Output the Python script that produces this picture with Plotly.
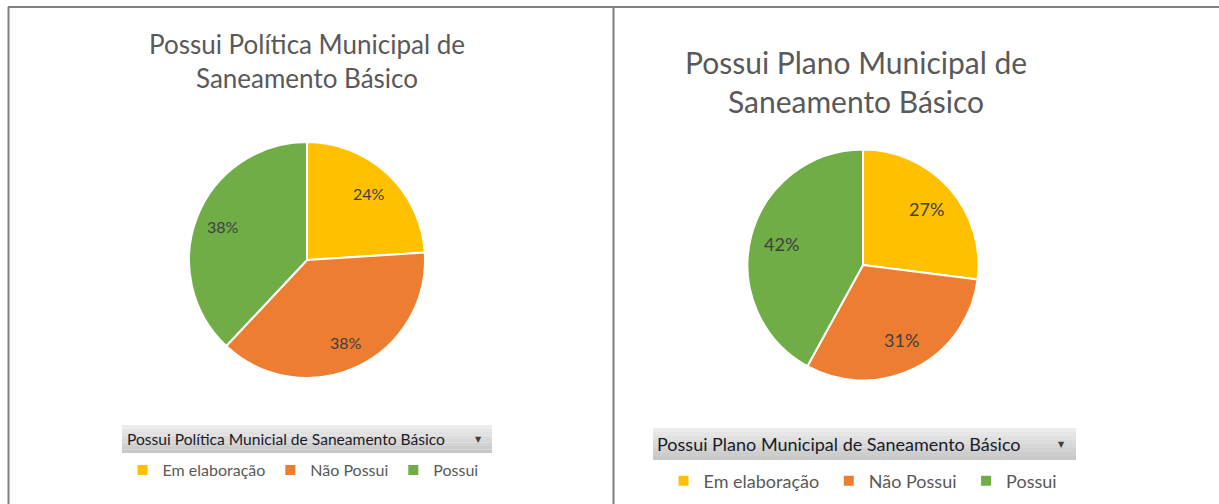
import math
import plotly.graph_objects as go

W, H = 1219, 504

categories = ["Em elaboração", "Não Possui", "Possui"]
politica_values = [24, 38, 38]
plano_values = [27, 31, 42]
colors = ["#FFC000", "#ED7D31", "#70AD47"]

title_left = "Possui Política Municipal de<br>Saneamento Básico"
title_right = "Possui Plano Municipal de<br>Saneamento Básico"
header_left = "Possui Política Municial de Saneamento Básico"
header_right = "Possui Plano Municipal de Saneamento Básico"

FONT = "Lato"

def px_x(x):
    return x / W

def px_y(y):
    return 1 - y / H

# pie geometry (pixels)
LEFT = dict(cx=307, cy=260, r=118, lab=0.77, fs=16)
RIGHT = dict(cx=863, cy=265, r=115.5, lab=0.73, fs=18)

fig = go.Figure()

def add_pie(values, labels, geo, legend):
    fig.add_trace(go.Pie(
        labels=labels, values=values, sort=False, direction="clockwise",
        rotation=0, marker=dict(colors=colors, line=dict(color="white", width=2)),
        textinfo="none",
        domain=dict(x=[px_x(geo["cx"] - geo["r"]), px_x(geo["cx"] + geo["r"])],
                    y=[px_y(geo["cy"] + geo["r"]), px_y(geo["cy"] - geo["r"])]),
        legend=legend, hoverinfo="label+percent",
    ))

add_pie(politica_values, categories, LEFT, "legend")
add_pie(plano_values, [c + " " for c in categories], RIGHT, "legend2")

annotations = []

def pie_labels(values, geo):
    total = sum(values)
    cum = 0
    for v in values:
        mid = (cum + v / 2) / total * 2 * math.pi
        cum += v
        rr = geo["r"] * geo["lab"]
        x = geo["cx"] + rr * math.sin(mid)
        y = geo["cy"] - rr * math.cos(mid)
        annotations.append(dict(text="%d%%" % round(v / total * 100), x=px_x(x), y=px_y(y),
                                xref="paper", yref="paper", showarrow=False,
                                xanchor="center", yanchor="middle",
                                font=dict(family=FONT, size=geo["fs"], color="#404040")))

pie_labels(politica_values, LEFT)
pie_labels(plano_values, RIGHT)

shapes = []
line_col = "#7F7F7F"
shapes.append(dict(type="line", xref="paper", yref="paper", x0=px_x(8), x1=1, y0=px_y(7), y1=px_y(7),
                   line=dict(color=line_col, width=2)))
shapes.append(dict(type="line", xref="paper", yref="paper", x0=px_x(8.5), x1=px_x(8.5), y0=0, y1=px_y(7),
                   line=dict(color=line_col, width=2)))
shapes.append(dict(type="line", xref="paper", yref="paper", x0=px_x(613.5), x1=px_x(613.5), y0=0, y1=px_y(7),
                   line=dict(color=line_col, width=2)))

def header_box(x0, x1, y0, y1):
    n = 8
    top = (236, 236, 236)
    bot = (200, 200, 200)
    for i in range(n):
        t = i / (n - 1)
        c = tuple(int(top[k] + (bot[k] - top[k]) * t) for k in range(3))
        ya = y0 + (y1 - y0) * i / n
        yb = y0 + (y1 - y0) * (i + 1) / n
        shapes.append(dict(type="rect", xref="paper", yref="paper",
                           x0=px_x(x0), x1=px_x(x1), y0=px_y(yb), y1=px_y(ya),
                           line=dict(width=0), fillcolor="rgb(%d,%d,%d)" % c, layer="below"))

header_box(122, 492, 425, 453)
header_box(653, 1076, 428, 460)

annotations += [
    dict(text=title_left, x=px_x(307), y=px_y(61), xref="paper", yref="paper", showarrow=False,
         xanchor="center", yanchor="middle", font=dict(family=FONT, size=26, color="#595959")),
    dict(text=title_right, x=px_x(856), y=px_y(82), xref="paper", yref="paper", showarrow=False,
         xanchor="center", yanchor="middle", font=dict(family=FONT, size=30, color="#595959")),
    dict(text=header_left, x=px_x(125), y=px_y(439), xref="paper", yref="paper", showarrow=False,
         xanchor="left", yanchor="middle", font=dict(family=FONT, size=15.6, color="#1A1A2A")),
    dict(text=header_right, x=px_x(655), y=px_y(444), xref="paper", yref="paper", showarrow=False,
         xanchor="left", yanchor="middle", font=dict(family=FONT, size=18, color="#1A1A2A")),
    dict(text="▼", x=px_x(478), y=px_y(439), xref="paper", yref="paper", showarrow=False,
         xanchor="center", yanchor="middle", font=dict(family="DejaVu Sans", size=8, color="#404040")),
    dict(text="▼", x=px_x(1061), y=px_y(444), xref="paper", yref="paper", showarrow=False,
         xanchor="center", yanchor="middle", font=dict(family="DejaVu Sans", size=8, color="#404040")),
]

fig.update_layout(
    width=W, height=H, margin=dict(l=0, r=0, t=0, b=0),
    paper_bgcolor="white", plot_bgcolor="white",
    shapes=shapes, annotations=annotations,
    legend=dict(orientation="h", x=px_x(303), y=px_y(470), xanchor="center", yanchor="middle",
                font=dict(family=FONT, size=16, color="#595959"), itemclick=False,
                itemwidth=30, bgcolor="rgba(0,0,0,0)"),
    legend2=dict(orientation="h", x=px_x(865), y=px_y(481), xanchor="center", yanchor="middle",
                 font=dict(family=FONT, size=18, color="#595959"), itemclick=False,
                 itemwidth=30, bgcolor="rgba(0,0,0,0)"),
)

fig.write_html("out.html", config={"displayModeBar": False},
               post_script="document.body.style.margin='0';document.body.style.overflow='hidden';")
